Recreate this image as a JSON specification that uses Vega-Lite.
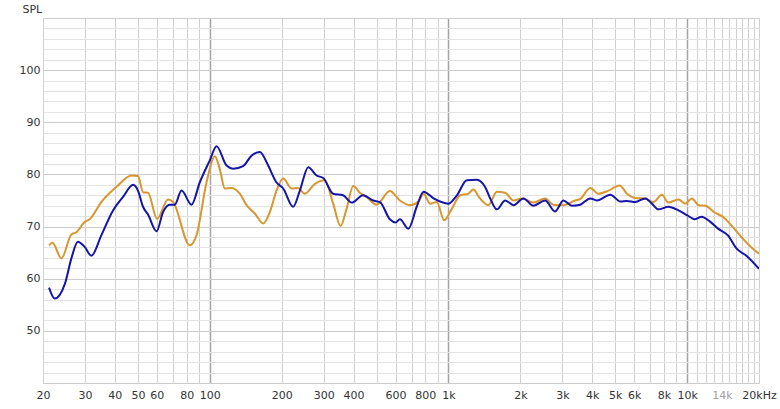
{
  "$schema": "https://vega.github.io/schema/vega-lite/v6.json",
  "width": 716,
  "height": 365,
  "autosize": {"type": "none"},
  "padding": {"left": 43, "top": 18, "right": 21, "bottom": 26},
  "background": "white",
  "config": {
    "view": {"stroke": "#c8c8c8"},
    "font": "DejaVu Sans"
  },
  "datasets": {
    "fr": [
      {"freq": 21.2, "spl": 66.4, "series": "A"},
      {"freq": 21.9, "spl": 66.9, "series": "A"},
      {"freq": 23.9, "spl": 63.9, "series": "A"},
      {"freq": 26.3, "spl": 68.5, "series": "A"},
      {"freq": 27.6, "spl": 68.9, "series": "A"},
      {"freq": 29.9, "spl": 70.9, "series": "A"},
      {"freq": 31.4, "spl": 71.4, "series": "A"},
      {"freq": 35.1, "spl": 74.7, "series": "A"},
      {"freq": 40.6, "spl": 77.6, "series": "A"},
      {"freq": 47.0, "spl": 79.8, "series": "A"},
      {"freq": 50.0, "spl": 79.7, "series": "A"},
      {"freq": 52.5, "spl": 76.6, "series": "A"},
      {"freq": 55.1, "spl": 76.5, "series": "A"},
      {"freq": 60.1, "spl": 71.5, "series": "A"},
      {"freq": 66.8, "spl": 75.2, "series": "A"},
      {"freq": 70.2, "spl": 74.7, "series": "A"},
      {"freq": 82.4, "spl": 66.4, "series": "A"},
      {"freq": 87.9, "spl": 68.3, "series": "A"},
      {"freq": 96.9, "spl": 78.5, "series": "A"},
      {"freq": 105, "spl": 83.5, "series": "A"},
      {"freq": 110, "spl": 81.1, "series": "A"},
      {"freq": 115.6, "spl": 77.3, "series": "A"},
      {"freq": 123.3, "spl": 77.4, "series": "A"},
      {"freq": 133.6, "spl": 76.3, "series": "A"},
      {"freq": 142.6, "spl": 74.1, "series": "A"},
      {"freq": 154.4, "spl": 72.5, "series": "A"},
      {"freq": 167.3, "spl": 70.6, "series": "A"},
      {"freq": 178.5, "spl": 72.8, "series": "A"},
      {"freq": 190.3, "spl": 76.9, "series": "A"},
      {"freq": 203, "spl": 79.2, "series": "A"},
      {"freq": 220, "spl": 77.3, "series": "A"},
      {"freq": 234, "spl": 77.4, "series": "A"},
      {"freq": 250, "spl": 76.3, "series": "A"},
      {"freq": 275.6, "spl": 78.2, "series": "A"},
      {"freq": 303, "spl": 78.9, "series": "A"},
      {"freq": 328.7, "spl": 74.4, "series": "A"},
      {"freq": 353, "spl": 70.1, "series": "A"},
      {"freq": 374, "spl": 73.4, "series": "A"},
      {"freq": 399, "spl": 77.8, "series": "A"},
      {"freq": 425, "spl": 76.5, "series": "A"},
      {"freq": 453, "spl": 75.7, "series": "A"},
      {"freq": 499, "spl": 74.2, "series": "A"},
      {"freq": 568, "spl": 76.8, "series": "A"},
      {"freq": 626, "spl": 75.0, "series": "A"},
      {"freq": 690, "spl": 74.1, "series": "A"},
      {"freq": 749, "spl": 74.8, "series": "A"},
      {"freq": 786, "spl": 76.3, "series": "A"},
      {"freq": 837, "spl": 74.4, "series": "A"},
      {"freq": 893, "spl": 74.7, "series": "A"},
      {"freq": 960, "spl": 71.2, "series": "A"},
      {"freq": 1024, "spl": 73.1, "series": "A"},
      {"freq": 1121, "spl": 76.0, "series": "A"},
      {"freq": 1212, "spl": 76.3, "series": "A"},
      {"freq": 1270, "spl": 77.1, "series": "A"},
      {"freq": 1355, "spl": 75.4, "series": "A"},
      {"freq": 1468, "spl": 74.1, "series": "A"},
      {"freq": 1595, "spl": 76.7, "series": "A"},
      {"freq": 1727, "spl": 76.5, "series": "A"},
      {"freq": 1875, "spl": 75.0, "series": "A"},
      {"freq": 2030, "spl": 75.4, "series": "A"},
      {"freq": 2268, "spl": 74.6, "series": "A"},
      {"freq": 2540, "spl": 75.4, "series": "A"},
      {"freq": 2750, "spl": 74.2, "series": "A"},
      {"freq": 3029, "spl": 74.1, "series": "A"},
      {"freq": 3393, "spl": 75.0, "series": "A"},
      {"freq": 3563, "spl": 75.3, "series": "A"},
      {"freq": 3925, "spl": 77.4, "series": "A"},
      {"freq": 4253, "spl": 76.3, "series": "A"},
      {"freq": 4688, "spl": 76.9, "series": "A"},
      {"freq": 5213, "spl": 77.9, "series": "A"},
      {"freq": 5595, "spl": 76.3, "series": "A"},
      {"freq": 6061, "spl": 75.5, "series": "A"},
      {"freq": 6673, "spl": 75.4, "series": "A"},
      {"freq": 7227, "spl": 74.7, "series": "A"},
      {"freq": 7834, "spl": 76.1, "series": "A"},
      {"freq": 8346, "spl": 74.6, "series": "A"},
      {"freq": 9192, "spl": 75.2, "series": "A"},
      {"freq": 9813, "spl": 74.4, "series": "A"},
      {"freq": 10470, "spl": 75.4, "series": "A"},
      {"freq": 11180, "spl": 74.1, "series": "A"},
      {"freq": 11930, "spl": 74.0, "series": "A"},
      {"freq": 12940, "spl": 72.8, "series": "A"},
      {"freq": 14270, "spl": 71.7, "series": "A"},
      {"freq": 15740, "spl": 69.6, "series": "A"},
      {"freq": 17330, "spl": 67.4, "series": "A"},
      {"freq": 18800, "spl": 65.8, "series": "A"},
      {"freq": 20000, "spl": 64.8, "series": "A"},
      {"freq": 21.2, "spl": 58.3, "series": "B"},
      {"freq": 22.4, "spl": 56.2, "series": "B"},
      {"freq": 24.7, "spl": 59.0, "series": "B"},
      {"freq": 26.3, "spl": 63.9, "series": "B"},
      {"freq": 28.0, "spl": 67.1, "series": "B"},
      {"freq": 29.9, "spl": 66.1, "series": "B"},
      {"freq": 31.9, "spl": 64.4, "series": "B"},
      {"freq": 35.1, "spl": 68.3, "series": "B"},
      {"freq": 39.3, "spl": 73.1, "series": "B"},
      {"freq": 43.3, "spl": 75.7, "series": "B"},
      {"freq": 47.7, "spl": 78.0, "series": "B"},
      {"freq": 50.0, "spl": 76.9, "series": "B"},
      {"freq": 52.5, "spl": 73.8, "series": "B"},
      {"freq": 55.1, "spl": 72.3, "series": "B"},
      {"freq": 59.8, "spl": 69.1, "series": "B"},
      {"freq": 63.7, "spl": 72.8, "series": "B"},
      {"freq": 67.9, "spl": 74.2, "series": "B"},
      {"freq": 71.3, "spl": 74.2, "series": "B"},
      {"freq": 76.1, "spl": 76.9, "series": "B"},
      {"freq": 83.8, "spl": 74.2, "series": "B"},
      {"freq": 90.8, "spl": 78.5, "series": "B"},
      {"freq": 100, "spl": 82.7, "series": "B"},
      {"freq": 106.7, "spl": 85.4, "series": "B"},
      {"freq": 117.5, "spl": 81.7, "series": "B"},
      {"freq": 125.3, "spl": 81.1, "series": "B"},
      {"freq": 137.9, "spl": 81.6, "series": "B"},
      {"freq": 149.5, "spl": 83.6, "series": "B"},
      {"freq": 162, "spl": 84.3, "series": "B"},
      {"freq": 175.6, "spl": 81.7, "series": "B"},
      {"freq": 190, "spl": 78.5, "series": "B"},
      {"freq": 203, "spl": 77.3, "series": "B"},
      {"freq": 223.5, "spl": 73.8, "series": "B"},
      {"freq": 238.4, "spl": 76.9, "series": "B"},
      {"freq": 258.5, "spl": 81.4, "series": "B"},
      {"freq": 280, "spl": 79.8, "series": "B"},
      {"freq": 298.8, "spl": 79.3, "series": "B"},
      {"freq": 328.7, "spl": 76.3, "series": "B"},
      {"freq": 362, "spl": 76.0, "series": "B"},
      {"freq": 392.8, "spl": 74.6, "series": "B"},
      {"freq": 439, "spl": 76.0, "series": "B"},
      {"freq": 483, "spl": 75.0, "series": "B"},
      {"freq": 516, "spl": 74.7, "series": "B"},
      {"freq": 568, "spl": 71.4, "series": "B"},
      {"freq": 600, "spl": 70.8, "series": "B"},
      {"freq": 626, "spl": 71.4, "series": "B"},
      {"freq": 679, "spl": 69.6, "series": "B"},
      {"freq": 736, "spl": 73.8, "series": "B"},
      {"freq": 786, "spl": 76.7, "series": "B"},
      {"freq": 866, "spl": 75.4, "series": "B"},
      {"freq": 1000, "spl": 74.4, "series": "B"},
      {"freq": 1085, "spl": 76.0, "series": "B"},
      {"freq": 1193, "spl": 78.9, "series": "B"},
      {"freq": 1313, "spl": 79.0, "series": "B"},
      {"freq": 1424, "spl": 77.6, "series": "B"},
      {"freq": 1495, "spl": 75.4, "series": "B"},
      {"freq": 1595, "spl": 73.3, "series": "B"},
      {"freq": 1727, "spl": 75.0, "series": "B"},
      {"freq": 1875, "spl": 74.1, "series": "B"},
      {"freq": 2061, "spl": 75.4, "series": "B"},
      {"freq": 2268, "spl": 74.0, "series": "B"},
      {"freq": 2540, "spl": 75.0, "series": "B"},
      {"freq": 2796, "spl": 72.9, "series": "B"},
      {"freq": 3029, "spl": 75.0, "series": "B"},
      {"freq": 3285, "spl": 74.0, "series": "B"},
      {"freq": 3563, "spl": 74.2, "series": "B"},
      {"freq": 3925, "spl": 75.4, "series": "B"},
      {"freq": 4186, "spl": 75.0, "series": "B"},
      {"freq": 4766, "spl": 76.1, "series": "B"},
      {"freq": 5250, "spl": 74.8, "series": "B"},
      {"freq": 5595, "spl": 74.9, "series": "B"},
      {"freq": 6061, "spl": 74.7, "series": "B"},
      {"freq": 6673, "spl": 75.4, "series": "B"},
      {"freq": 7117, "spl": 74.4, "series": "B"},
      {"freq": 7578, "spl": 73.3, "series": "B"},
      {"freq": 8346, "spl": 73.8, "series": "B"},
      {"freq": 9192, "spl": 73.1, "series": "B"},
      {"freq": 9973, "spl": 72.2, "series": "B"},
      {"freq": 10800, "spl": 71.4, "series": "B"},
      {"freq": 11490, "spl": 71.9, "series": "B"},
      {"freq": 12430, "spl": 71.0, "series": "B"},
      {"freq": 13470, "spl": 69.6, "series": "B"},
      {"freq": 14830, "spl": 68.3, "series": "B"},
      {"freq": 16090, "spl": 65.8, "series": "B"},
      {"freq": 17710, "spl": 64.4, "series": "B"},
      {"freq": 20000, "spl": 61.9, "series": "B"}
    ]
  },
  "data": {"name": "fr"},
  "mark": {"type": "line", "interpolate": "monotone", "strokeWidth": 2, "clip": true},
  "encoding": {
    "x": {
      "field": "freq",
      "type": "quantitative",
      "scale": {"type": "log", "domain": [20, 20000], "nice": false},
      "axis": {
        "title": null,
        "domain": false,
        "ticks": false,
        "labelFlush": false,
        "labelOverlap": false,
        "labelBound": false,
        "labelPadding": 6,
        "labelFontSize": 11,
        "labelColor": {"condition": {"test": "datum.value == 14000", "value": "#a0a0a0"}, "value": "#333333"},
        "gridColor": {"condition": {"test": "datum.value == 100 || datum.value == 1000 || datum.value == 10000", "value": "#a4a4a4"}, "value": "#d0d0d0"},
        "gridWidth": {"condition": {"test": "datum.value == 100 || datum.value == 1000 || datum.value == 10000", "value": 1.5}, "value": 1},
        "values": [20, 30, 40, 50, 60, 70, 80, 90, 100, 200, 300, 400, 500, 600, 700, 800, 900, 1000, 2000, 3000, 4000, 5000, 6000, 7000, 8000, 9000, 10000, 11000, 12000, 13000, 14000, 15000, 16000, 17000, 18000, 19000, 20000],
        "labelExpr": "indexof([20,30,40,50,60,80,100,200,300,400,600,800,1000,2000,3000,4000,5000,6000,8000,10000,14000,20000], datum.value) < 0 ? '' : datum.value == 20000 ? '20kHz' : datum.value >= 1000 ? (datum.value / 1000) + 'k' : datum.value + ''"
      }
    },
    "y": {
      "field": "spl",
      "type": "quantitative",
      "scale": {"domain": [40, 110], "nice": false, "zero": false},
      "axis": {
        "title": "SPL",
        "titleAngle": 0,
        "titleAlign": "left",
        "titleBaseline": "alphabetic",
        "titleX": -21,
        "titleY": -6,
        "titleFontSize": 11,
        "titleFontWeight": "normal",
        "titleColor": "#333333",
        "domain": false,
        "ticks": false,
        "labelPadding": 3,
        "labelFontSize": 11,
        "labelColor": "#333333",
        "values": [40, 42, 44, 46, 48, 50, 52, 54, 56, 58, 60, 62, 64, 66, 68, 70, 72, 74, 76, 78, 80, 82, 84, 86, 88, 90, 92, 94, 96, 98, 100, 102, 104, 106, 108, 110],
        "labelExpr": "datum.value % 10 == 0 && datum.value > 40 && datum.value < 110 ? datum.value + '' : ''",
        "gridColor": {"condition": {"test": "datum.value % 10 == 0", "value": "#cccccc"}, "value": "#e3e3e3"}
      }
    },
    "color": {
      "field": "series",
      "type": "nominal",
      "scale": {"domain": ["A", "B"], "range": ["#d9962f", "#1414a8"]},
      "legend": null
    }
  }
}
